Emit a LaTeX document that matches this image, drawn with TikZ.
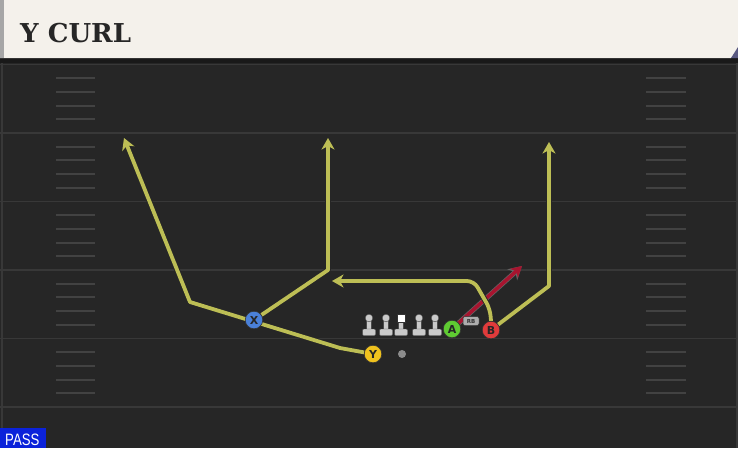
\documentclass[tikz,border=0pt]{standalone}
\usepackage{fontspec}
\usepackage{tikz}
\usetikzlibrary{arrows.meta}
\newfontfamily\titlefont{DejaVu Serif}
\newfontfamily\passfont{Liberation Sans}[FakeStretch=0.8]
\newfontfamily\playerfont{DejaVu Sans}
\definecolor{fieldgrey}{HTML}{262626}
\definecolor{yardgrey}{HTML}{383838}
\definecolor{headcream}{HTML}{F4F1EB}
\definecolor{routeyellow}{HTML}{BDBE55}
\definecolor{routered}{HTML}{A8142F}
\definecolor{xblue}{HTML}{4A80D8}
\definecolor{yyellow}{HTML}{F0C21E}
\definecolor{agreen}{HTML}{5FCB32}
\definecolor{bred}{HTML}{E03B3B}
\definecolor{linegrey}{HTML}{CACACA}
\definecolor{passblue}{HTML}{0B22DA}
\pgfdeclarelayer{field}
\pgfdeclarelayer{routes}
\pgfsetlayers{field,routes,main}

\begin{document}
\begin{tikzpicture}[x=1pt, y=-1pt,
  player/.style={circle, draw=black!80, line width=0.6pt, minimum size=17.5pt,
    inner sep=0pt, font=\playerfont\bfseries\fontsize{11}{11}\selectfont, text=black!85},
  routeedge/.style={draw=black!85, line width=5.6pt, line join=round,
    -{Stealth[length=14pt, width=16pt, inset=4pt]}},
  route/.style={draw=routeyellow, line width=3.8pt, line join=round,
    -{Stealth[length=11.5pt, width=13pt, inset=3.5pt]}},
  hotedge/.style={draw=black!60, line width=5pt, line join=round,
    -{Stealth[length=13pt, width=14.5pt, inset=4pt]}},
  hotroute/.style={draw=routered, line width=3.6pt, line join=round,
    -{Stealth[length=11pt, width=12pt, inset=3.5pt]}},
  hash/.style={draw=yardgrey!95!white, line width=2pt},
  lineman/.style={fill=linegrey, draw=black!70, line width=0.4pt}]
  \useasboundingbox (0,0) rectangle (738,448);

  % ── Field and header ──
  \begin{pgfonlayer}{field}
    \fill[fieldgrey] (0,58) rectangle (738,448);
    \fill[black!90] (0,58) rectangle (738,63);
    \draw[yardgrey, line width=2pt] (1.5,63) -- (1.5,448);
    \draw[yardgrey, line width=2pt] (736.5,63) -- (736.5,448);
    % Yard lines
    \foreach \y in {64.5,133,201.5,270,338.5,407}
      \draw[yardgrey, line width=1.6pt] (0,\y) -- (738,\y);
    % Hash marks
    \foreach \k in {1,...,24} {
      \pgfmathtruncatemacro\kmod{mod(\k,5)}
      \ifnum\kmod>0
        \draw[hash] (56,{64.5+13.7*\k}) -- (95,{64.5+13.7*\k});
        \draw[hash] (646,{64.5+13.7*\k}) -- (686,{64.5+13.7*\k});
      \fi
    }
    \fill[headcream] (0,0) -- (738,0) -- (738,47) -- (731,58) -- (0,58) -- cycle;
    \fill[black!50!blue!30!gray] (738,47) -- (731,58) -- (738,58) -- cycle;
    \fill[black!35] (0,0) rectangle (4,58);
  \end{pgfonlayer}

  \node[anchor=base west, inner sep=0pt, text=black!85,
    font=\titlefont\bfseries\fontsize{26}{26}\selectfont] (title) at (20,42) {Y CURL};

  % ── Offensive line ──
  \foreach \x in {369,386,419,435} {
    \fill[lineman] (\x-2.5,318) rectangle (\x+2.5,330);
    \fill[lineman, rounded corners=1pt] (\x-6.5,329) rectangle (\x+6.5,335.5);
    \fill[lineman] (\x,318) circle (3.8);
  }
  \fill[lineman] (398.5,321) rectangle (403.5,330);
  \fill[lineman, rounded corners=1pt] (394.5,329) rectangle (407.5,335.5);
  \node[draw=black!80, fill=white, line width=0.5pt, minimum size=8.5pt, inner sep=0pt] (center) at (401,318) {};

  % ── Players ──
  \node[player, fill=xblue] (X) at (254,320) {X};
  \node[player, fill=yyellow] (Y) at (373,354) {Y};
  \node[player, fill=agreen] (A) at (452,329) {A};
  \node[player, fill=bred] (B) at (491,330) {B};
  \node[circle, fill=black!45, minimum size=8pt, inner sep=0pt] (ball) at (402,354) {};
  \node[draw=black!80, fill=black!32, rounded corners=2pt, line width=0.5pt,
    minimum width=16pt, minimum height=9pt, inner sep=0pt,
    font=\playerfont\bfseries\fontsize{5.5}{5.5}\selectfont, text=black!80] (rbtag) at (471,321) {RB};

  % ── Routes ──
  \coordinate (ybend) at (340,348);
  \coordinate (ystem) at (190,302);
  \coordinate (yend) at (124,138);
  \coordinate (xbreak) at (328,270);
  \coordinate (xend) at (328,138);
  \coordinate (bbreak) at (549,286);
  \coordinate (bend) at (549,142);
  \coordinate (dragup) at (490,309);
  \coordinate (dragturn) at (474,281);
  \coordinate (dragend) at (332,281);
  \coordinate (flatend) at (522,266);
  \begin{pgfonlayer}{routes}
    \draw[hotedge] (A) -- (flatend);
    \draw[hotroute] (A) -- (flatend);
    % outline first, then colour
    \foreach \sty in {routeedge, route} {
      \draw[\sty] (Y) -- (ybend) -- (ystem) -- (yend);
      \draw[\sty] (X) -- (xbreak) -- (xend);
      \draw[\sty] (B) -- (bbreak) -- (bend);
      \draw[\sty, rounded corners=7pt] (B.north) -- (dragup) -- (dragturn) -- (dragend);
    }
  \end{pgfonlayer}

  % ── Play type ──
  \node[fill=passblue, anchor=south west, minimum width=46pt, minimum height=20pt,
    inner sep=0pt] (passbox) at (0,448) {};
  \node[anchor=base west, inner sep=0pt, text=white,
    font=\passfont\fontsize{16.5}{16.5}\selectfont] (pass) at (5,445) {PASS};
\end{tikzpicture}
\end{document}
